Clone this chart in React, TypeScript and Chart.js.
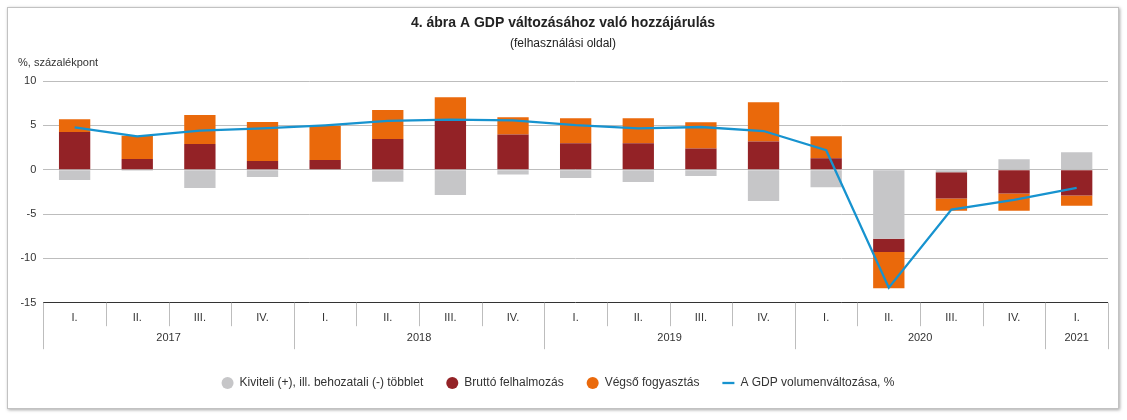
import React, { useEffect, useRef } from 'react';
import { Chart, registerables } from 'chart.js';

Chart.register(...registerables);

const FONT = '"Liberation Sans", Arial, Helvetica, sans-serif';

const chartTitle = '4. ábra A GDP változásához való hozzájárulás';
const chartSubtitle = '(felhasználási oldal)';
const yAxisTitle = '%, százalékpont';

const quarters = ['I.', 'II.', 'III.', 'IV.', 'I.', 'II.', 'III.', 'IV.', 'I.', 'II.', 'III.', 'IV.', 'I.', 'II.', 'III.', 'IV.', 'I.'];
const years = ['2017', '2018', '2019', '2020', '2021'];
const quartersPerYear = [4, 4, 4, 4, 1];

const seriesNames = [
  'Kiviteli (+), ill. behozatali (-) többlet',
  'Bruttó felhalmozás',
  'Végső fogyasztás',
  'A GDP volumenváltozása, %',
];

const netExports = [-1.15, -0.12, -2.07, -0.82, 0, -1.37, -2.86, -0.53, -0.94, -1.4, -0.72, -3.54, -1.97, -7.8, -0.3, 1.17, 1.97];
const grossCapital = [4.25, 1.2, 2.9, 0.98, 1.09, 3.45, 5.5, 3.98, 2.97, 2.97, 2.4, 3.19, 1.28, -1.48, -2.96, -2.69, -2.92];
const finalConsumption = [1.45, 2.63, 3.27, 4.4, 3.87, 3.28, 2.66, 1.92, 2.82, 2.82, 2.94, 4.41, 2.5, -4.09, -1.36, -1.93, -1.14];
const gdpGrowth = [4.78, 3.76, 4.4, 4.65, 5.0, 5.5, 5.64, 5.56, 5.03, 4.66, 4.81, 4.36, 2.19, -13.3, -4.5, -3.4, -2.05];

const yMin = -15;
const yMax = 10;
const yStep = 5;

const colors = {
  grey: '#c6c6c8',
  darkRed: '#932226',
  orange: '#ea690b',
  blue: '#1793cf',
  grid: '#bdbdbd',
  axis: '#333333',
  text: '#333333',
};

const quarterYear: string[] = [];
years.forEach((y, i) => {
  for (let k = 0; k < quartersPerYear[i]; k++) quarterYear.push(y);
});
const labels = quarters.map((q, i) => `${quarterYear[i]} ${q}`);

const textPlugin = {
  id: 'customTexts',
  afterDraw(chart: any) {
    const { ctx, chartArea, scales } = chart;
    const xs = scales.x;
    const n = quarters.length;
    ctx.save();
    ctx.fillStyle = '#222';
    ctx.textAlign = 'center';
    ctx.textBaseline = 'middle';
    ctx.font = `bold 14px ${FONT}`;
    ctx.fillText(chartTitle, chart.width / 2, 15.3);
    ctx.font = `12px ${FONT}`;
    ctx.fillText(chartSubtitle, chart.width / 2, 36);
    ctx.textAlign = 'left';
    ctx.font = `11px ${FONT}`;
    ctx.fillStyle = colors.text;
    ctx.fillText(yAxisTitle, 10, 55);

    const bounds: number[] = [];
    for (let i = 0; i <= n; i++) {
      if (i === 0) bounds.push(chartArea.left);
      else if (i === n) bounds.push(chartArea.right);
      else bounds.push((xs.getPixelForValue(i - 1) + xs.getPixelForValue(i)) / 2);
    }
    const yearStarts = new Set<number>();
    let acc = 0;
    yearStarts.add(0);
    quartersPerYear.forEach((c) => {
      acc += c;
      yearStarts.add(acc);
    });
    const top = chartArea.bottom;
    ctx.strokeStyle = colors.grid;
    ctx.lineWidth = 1;
    bounds.forEach((bx, i) => {
      const px = Math.round(bx) + 0.5;
      ctx.beginPath();
      ctx.moveTo(px, top);
      ctx.lineTo(px, yearStarts.has(i) ? top + 46.5 : top + 23.5);
      ctx.stroke();
    });

    ctx.fillStyle = colors.text;
    ctx.textAlign = 'center';
    ctx.font = `11px ${FONT}`;
    quarters.forEach((q, i) => {
      ctx.fillText(q, xs.getPixelForValue(i), top + 15.6);
    });
    let start = 0;
    years.forEach((y, i) => {
      const end = start + quartersPerYear[i];
      const cx = (bounds[start] + bounds[end]) / 2;
      ctx.fillText(y, cx, top + 35);
      start = end;
    });
    ctx.restore();
  },
};

export default function App() {
  const canvasRef = useRef<HTMLCanvasElement | null>(null);

  useEffect(() => {
    const canvas = canvasRef.current;
    if (!canvas) return;
    const chart = new Chart(canvas, {
      type: 'bar',
      data: {
        labels,
        datasets: [
          {
            type: 'bar',
            label: seriesNames[0],
            data: netExports,
            backgroundColor: colors.grey,
            borderWidth: 0,
            categoryPercentage: 0.5,
            barPercentage: 1,
          },
          {
            type: 'bar',
            label: seriesNames[1],
            data: grossCapital,
            backgroundColor: colors.darkRed,
            borderWidth: 0,
            categoryPercentage: 0.5,
            barPercentage: 1,
          },
          {
            type: 'bar',
            label: seriesNames[2],
            data: finalConsumption,
            backgroundColor: colors.orange,
            borderWidth: 0,
            categoryPercentage: 0.5,
            barPercentage: 1,
          },
          {
            type: 'line',
            label: seriesNames[3],
            data: gdpGrowth,
            borderColor: colors.blue,
            backgroundColor: colors.blue,
            borderWidth: 2.3,
            pointRadius: 0,
            pointHoverRadius: 0,
            pointStyle: 'line',
            tension: 0,
            fill: false,
            stack: 'gdp',
            order: -1,
          } as any,
        ],
      },
      options: {
        animation: false,
        responsive: false,
        events: [],
        layout: { padding: { top: 73, right: 10, bottom: 9, left: 0 } },
        plugins: {
          title: { display: false },
          tooltip: { enabled: false },
          legend: {
            display: true,
            position: 'bottom',
            labels: {
              usePointStyle: true,
              boxWidth: 12,
              boxHeight: 8.5,
              padding: 23,
              color: colors.text,
              font: { family: FONT, size: 12 },
              sort: (a: any, b: any) => a.datasetIndex - b.datasetIndex,
            },
          },
        },
        scales: {
          x: {
            type: 'category',
            stacked: true,
            offset: true,
            grid: { display: false },
            border: { display: false },
            ticks: { display: false },
            afterFit: (scale: any) => {
              scale.height = 51.3;
            },
          },
          y: {
            type: 'linear',
            stacked: true,
            min: yMin,
            max: yMax,
            border: { display: false },
            grid: {
              drawTicks: false,
              color: (c: any) => (c.tick && c.tick.value === yMin ? colors.axis : colors.grid),
              lineWidth: 1,
            },
            ticks: {
              stepSize: yStep,
              padding: 7,
              color: colors.text,
              font: { family: FONT, size: 11 },
            },
            afterFit: (scale: any) => {
              scale.width = 35.3;
            },
          },
        },
      },
      plugins: [textPlugin],
    } as any);
    return () => chart.destroy();
  }, []);

  return (
    <div
      style={{
        position: 'absolute',
        left: 7,
        top: 7,
        width: 1112,
        height: 402,
        boxSizing: 'border-box',
        border: '1px solid #c2c2c2',
        boxShadow: '1px 1px 3px rgba(0,0,0,0.35)',
        background: '#fff',
      }}
    >
      <canvas ref={canvasRef} width={1110} height={400} style={{ display: 'block' }} />
    </div>
  );
}
